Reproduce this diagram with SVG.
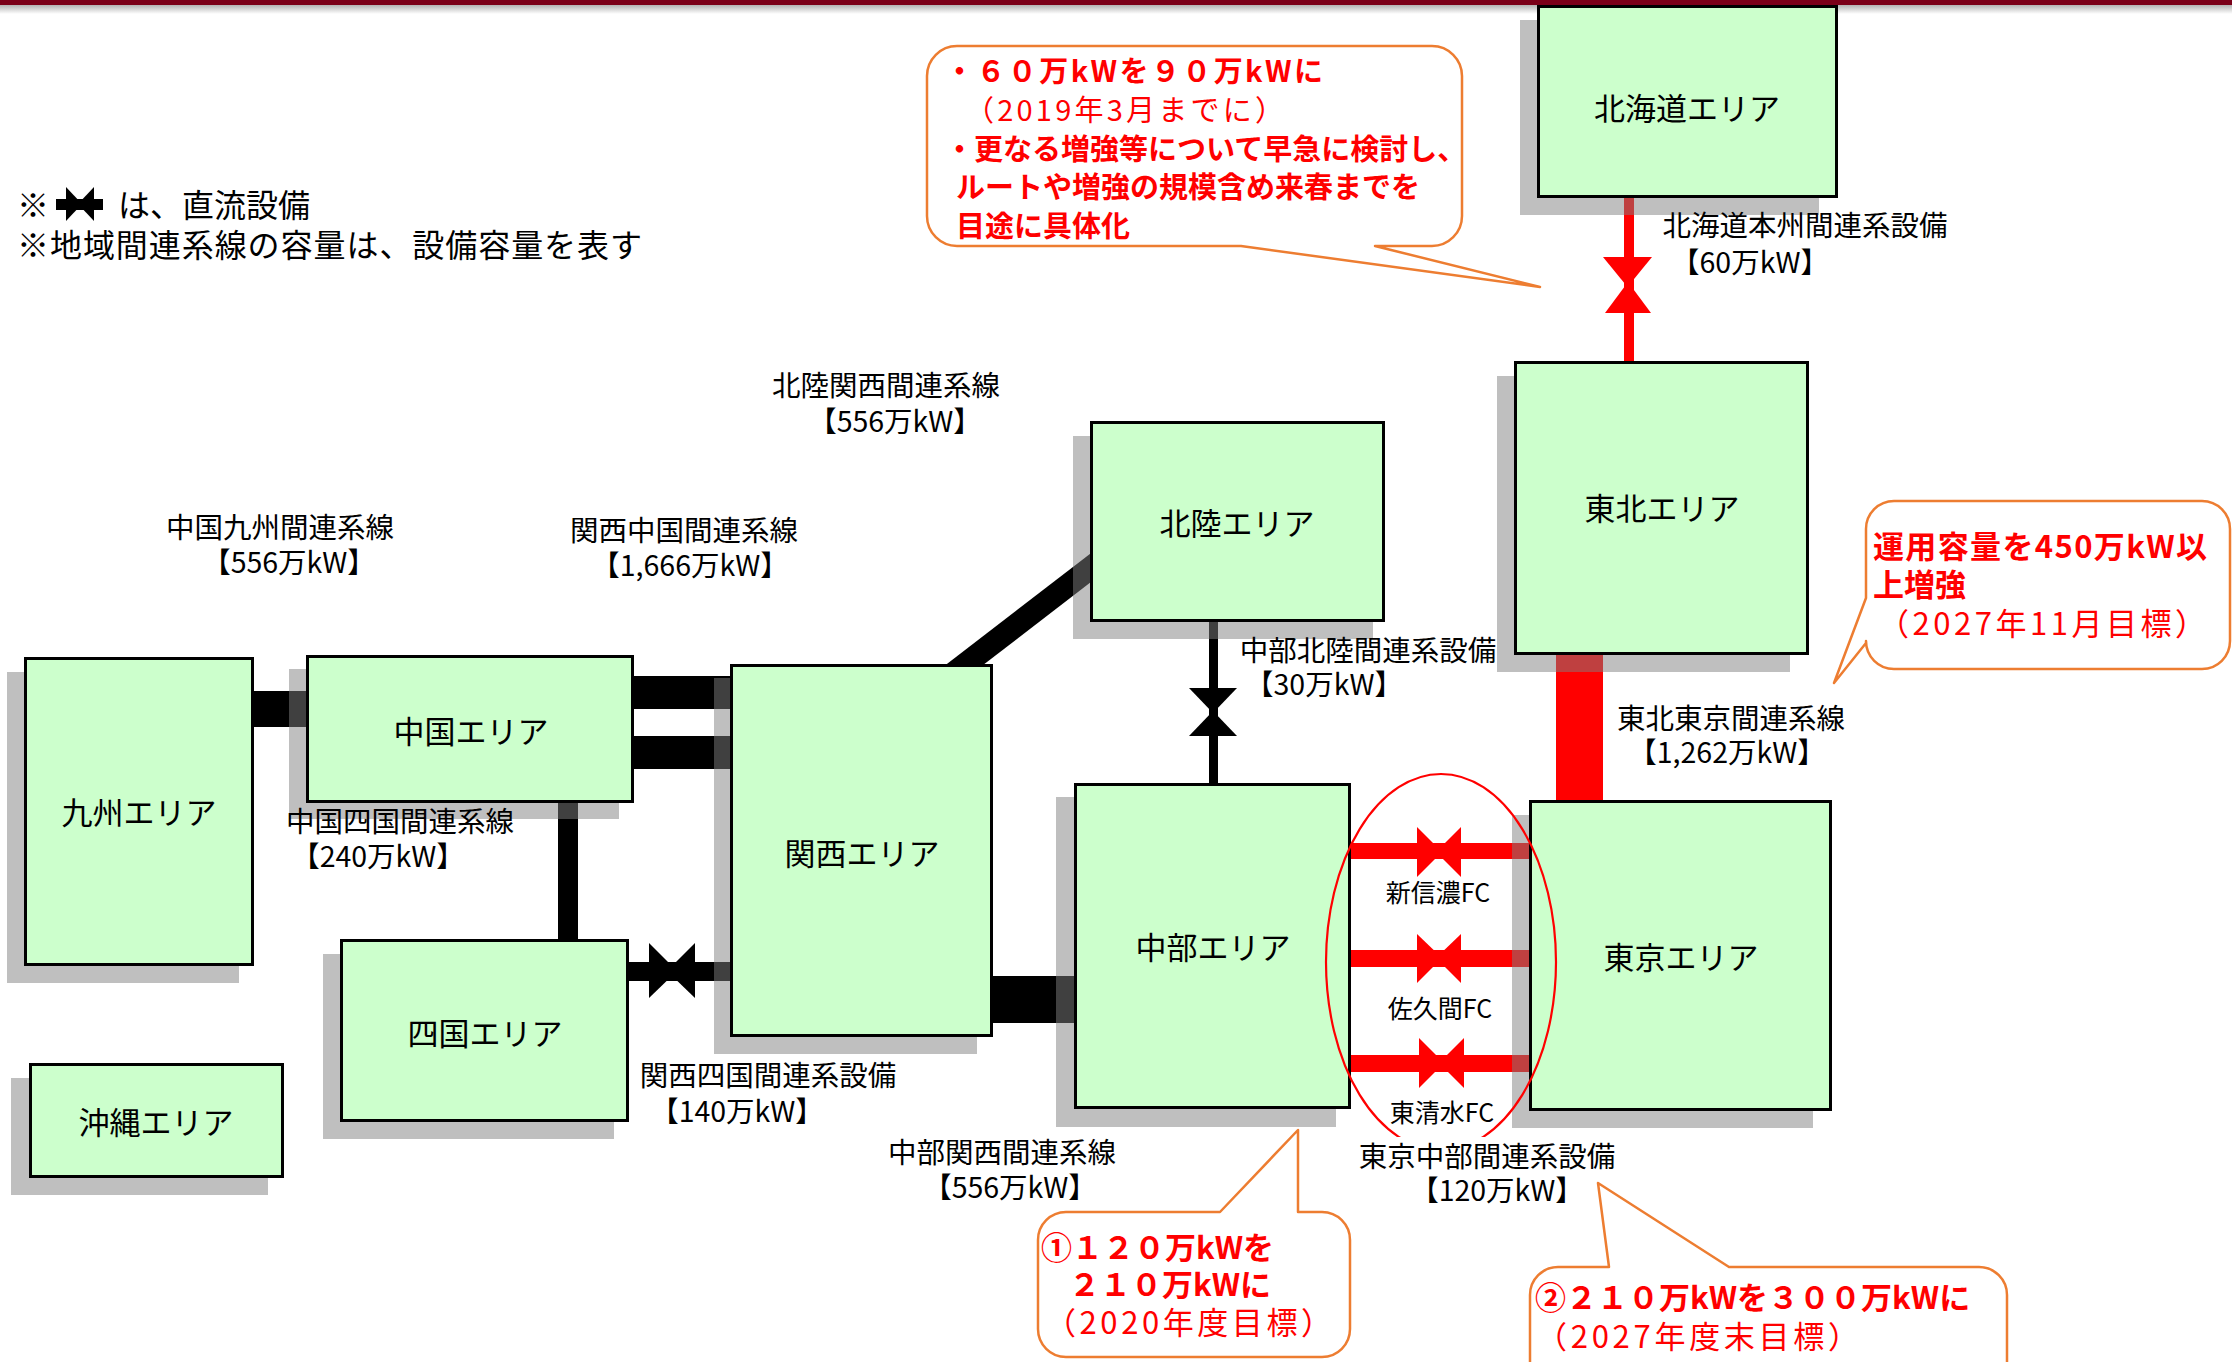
<svg xmlns="http://www.w3.org/2000/svg" width="2232" height="1362" viewBox="0 0 2232 1362">
<defs>
<style>
text { font-family: "Noto Sans CJK JP", "Noto Sans", sans-serif; fill:#000; }
.shadow { fill:#808080; fill-opacity:0.5; }
.area { fill:#ccffcc; stroke:#000; stroke-width:3; }
.aname { font-size:31px; text-anchor:middle; }
.lbl { font-size:28.5px; text-anchor:middle; }
.fc { font-size:25px; text-anchor:middle; }
.callout { fill:#fff; stroke:#ed7d31; stroke-width:2.5; stroke-linejoin:round; }
.ctext { fill:#ff0000; }
.b { font-weight:bold; }
.n { font-weight:normal; }
.red { fill:#ff0000; }
.blk { fill:#000; }
.legend { font-size:32px; }
</style>
<linearGradient id="barShade" x1="0" y1="0" x2="0" y2="1">
<stop offset="0" stop-color="#000" stop-opacity="0.3"/>
<stop offset="1" stop-color="#000" stop-opacity="0"/>
</linearGradient>
</defs>
<rect x="0" y="0" width="2232" height="1362" fill="#fff"/>
<!-- top bar -->
<rect x="0" y="0" width="2232" height="5" fill="#7b0019"/>
<rect x="0" y="5" width="2232" height="9" fill="url(#barShade)"/>

<!-- legend -->
<g id="legend">
<rect class="blk" x="56" y="199" width="47" height="11"/>
<polygon class="blk" points="66,187 66,221 82,204"/>
<polygon class="blk" points="94,187 94,221 78,204"/>
<text class="legend"><tspan x="17" y="217">※</tspan><tspan x="118" y="217">は、直流設備</tspan><tspan x="17" y="257" textLength="625">※地域間連系線の容量は、設備容量を表す</tspan></text>
</g>

<!-- connectors -->
<g id="connectors">
<!-- Hokkaido - Tohoku (DC) -->
<rect class="red" x="1624" y="190" width="10" height="180"/>
<polygon class="red" points="1603,257 1652,257 1627.5,287"/>
<polygon class="red" points="1605,313 1651,313 1628,282"/>
<!-- Tohoku - Tokyo -->
<rect class="red" x="1556" y="650" width="47" height="155"/>
<!-- FC lines Chubu - Tokyo -->
<rect class="red" x="1345" y="843" width="190" height="16"/>
<polygon class="red" points="1417,827 1417,877 1442,852"/>
<polygon class="red" points="1461,827 1461,877 1436,852"/>
<rect class="red" x="1345" y="950" width="190" height="17"/>
<polygon class="red" points="1417,934 1417,983 1442,958"/>
<polygon class="red" points="1461,934 1461,983 1436,958"/>
<rect class="red" x="1345" y="1055" width="190" height="17"/>
<polygon class="red" points="1419,1038 1419,1088 1444,1063"/>
<polygon class="red" points="1464,1038 1464,1088 1439,1063"/>
<!-- Chubu - Hokuriku (DC) -->
<rect class="blk" x="1209" y="615" width="9" height="175"/>
<polygon class="blk" points="1189,688 1237,688 1213,713"/>
<polygon class="blk" points="1189,736 1237,736 1213,711"/>
<!-- Hokuriku - Kansai -->
<line x1="950" y1="676" x2="1106" y2="556" stroke="#000" stroke-width="23"/>
<!-- Kansai - Chugoku (2 lines) -->
<rect class="blk" x="630" y="676" width="105" height="33"/>
<rect class="blk" x="630" y="736" width="105" height="33"/>
<!-- Kyushu - Chugoku -->
<rect class="blk" x="250" y="691" width="60" height="36"/>
<!-- Chugoku - Shikoku -->
<rect class="blk" x="558" y="800" width="20" height="143"/>
<!-- Kansai - Shikoku (DC) -->
<rect class="blk" x="625" y="962" width="110" height="19"/>
<polygon class="blk" points="649,943 649,998 677,971"/>
<polygon class="blk" points="695,943 695,998 667,971"/>
<!-- Chubu - Kansai -->
<rect class="blk" x="990" y="976" width="88" height="47"/>
</g>

<!-- nodes -->
<g id="hokkaido">
<rect class="shadow" x="1520" y="20" width="299" height="195"/>
<rect class="area" x="1538.5" y="6.5" width="298" height="190"/>
<text class="aname" x="1687" y="120">北海道エリア</text>
</g>
<g id="tohoku">
<rect class="shadow" x="1497" y="376" width="293" height="296"/>
<rect class="area" x="1515.5" y="362.5" width="292" height="291"/>
<text class="aname" x="1662" y="520">東北エリア</text>
</g>
<g id="tokyo">
<rect class="shadow" x="1512" y="815" width="301" height="313"/>
<rect class="area" x="1530.5" y="801.5" width="300" height="308"/>
<text class="aname" x="1681" y="969">東京エリア</text>
</g>
<g id="chubu">
<rect class="shadow" x="1056" y="797" width="280" height="330"/>
<rect class="area" x="1075.5" y="784.5" width="274" height="323"/>
<text class="aname" x="1213" y="959">中部エリア</text>
</g>
<g id="hokuriku">
<rect class="shadow" x="1073" y="436" width="300" height="203"/>
<rect class="area" x="1091.5" y="422.5" width="292" height="198"/>
<text class="aname" x="1237" y="535">北陸エリア</text>
</g>
<g id="kansai">
<rect class="shadow" x="714" y="678" width="263" height="376"/>
<rect class="area" x="731.5" y="665.5" width="260" height="370"/>
<text class="aname" x="862" y="865">関西エリア</text>
</g>
<g id="chugoku">
<rect class="shadow" x="289" y="669" width="330" height="150"/>
<rect class="area" x="307.5" y="656.5" width="325" height="145"/>
<text class="aname" x="471" y="743">中国エリア</text>
</g>
<g id="kyushu">
<rect class="shadow" x="7" y="672" width="232" height="311"/>
<rect class="area" x="25.5" y="658.5" width="227" height="306"/>
<text class="aname" x="139" y="824">九州エリア</text>
</g>
<g id="shikoku">
<rect class="shadow" x="323" y="954" width="291" height="185"/>
<rect class="area" x="341.5" y="940.5" width="286" height="180"/>
<text class="aname" x="485" y="1045">四国エリア</text>
</g>
<g id="okinawa">
<rect class="shadow" x="11" y="1078" width="257" height="117"/>
<rect class="area" x="30.5" y="1064.5" width="252" height="112"/>
<text class="aname" x="156" y="1134">沖縄エリア</text>
</g>

<!-- FC ellipse -->
<ellipse cx="1441" cy="962" rx="115" ry="188" fill="none" stroke="#ff0000" stroke-width="2.2"/>

<!-- connector labels -->
<g id="labels">
<text class="lbl"><tspan x="1805" y="236">北海道本州間連系設備</tspan><tspan x="1750" y="273">【60万kW】</tspan></text>
<text class="lbl"><tspan x="1368" y="661">中部北陸間連系設備</tspan><tspan x="1324" y="695">【30万kW】</tspan></text>
<text class="lbl"><tspan x="886" y="396">北陸関西間連系線</tspan><tspan x="895" y="432">【556万kW】</tspan></text>
<text class="lbl"><tspan x="684" y="541">関西中国間連系線</tspan><tspan x="690" y="576">【1,666万kW】</tspan></text>
<text class="lbl"><tspan x="280" y="538">中国九州間連系線</tspan><tspan x="289" y="573">【556万kW】</tspan></text>
<text class="lbl"><tspan x="400" y="832">中国四国間連系線</tspan><tspan x="378" y="867">【240万kW】</tspan></text>
<text class="lbl"><tspan x="768" y="1086">関西四国間連系設備</tspan><tspan x="737" y="1122">【140万kW】</tspan></text>
<text class="lbl"><tspan x="1002" y="1163">中部関西間連系線</tspan><tspan x="1010" y="1198">【556万kW】</tspan></text>
<text class="lbl"><tspan x="1731" y="729">東北東京間連系線</tspan><tspan x="1727" y="763">【1,262万kW】</tspan></text>
<rect x="1352" y="1137" width="272" height="72" fill="#fff"/>
<text class="lbl"><tspan x="1487" y="1167">東京中部間連系設備</tspan><tspan x="1497" y="1201">【120万kW】</tspan></text>
<text class="fc" x="1438" y="901.5">新信濃FC</text>
<text class="fc" x="1440" y="1017.5">佐久間FC</text>
<text class="fc" x="1442" y="1121.5">東清水FC</text>
</g>

<!-- callouts -->
<g id="callout1">
<path class="callout" d="M957,46 H1432 A30,30 0 0 1 1462,76 V216 A30,30 0 0 1 1432,246 H1375 L1540,287 L1241,246 H957 A30,30 0 0 1 927,216 V76 A30,30 0 0 1 957,46 Z"/>
<text class="ctext" font-size="29"><tspan class="b" x="945" y="82" textLength="378">・６０万kWを９０万kWに</tspan><tspan class="n" x="965" y="121" textLength="319">（2019年3月までに）</tspan><tspan class="b" x="945" y="160">・更なる増強等について早急に検討し、</tspan><tspan class="b" x="956" y="198">ルートや増強の規模含め来春までを</tspan><tspan class="b" x="956" y="237">目途に具体化</tspan></text>
</g>
<g id="callout2">
<path class="callout" d="M1894,501 H2202 A28,28 0 0 1 2230,529 V641 A28,28 0 0 1 2202,669 H1894 A28,28 0 0 1 1866,641 V643 L1834,683 L1866,598 V529 A28,28 0 0 1 1894,501 Z"/>
<text class="ctext" font-size="31"><tspan class="b" x="1873" y="558" textLength="334">運用容量を450万kW以</tspan><tspan class="b" x="1873" y="596">上増強</tspan><tspan class="n" x="1878" y="635" textLength="328">（2027年11月目標）</tspan></text>
</g>
<g id="callout3">
<path class="callout" d="M1066,1212 H1220 L1298,1130 L1298,1212 H1322 A28,28 0 0 1 1350,1240 V1329 A28,28 0 0 1 1322,1357 H1066 A28,28 0 0 1 1038,1329 V1240 A28,28 0 0 1 1066,1212 Z"/>
<text class="ctext" font-size="31"><tspan class="b" x="1041" y="1259">①１２０万kWを</tspan><tspan class="b" x="1069" y="1296">２１０万kWに</tspan><tspan class="n" x="1045" y="1334" textLength="287">（2020年度目標）</tspan></text>
</g>
<g id="callout4">
<path class="callout" d="M1558,1267 H1609 L1598,1183 L1729,1267 H1979 A28,28 0 0 1 2007,1295 V1372 A28,28 0 0 1 1979,1400 H1558 A28,28 0 0 1 1530,1372 V1295 A28,28 0 0 1 1558,1267 Z"/>
<text class="ctext" font-size="31"><tspan class="b" x="1535" y="1309">②２１０万kWを３００万kWに</tspan><tspan class="n" x="1536" y="1348" textLength="323">（2027年度末目標）</tspan></text>
</g>
</svg>
